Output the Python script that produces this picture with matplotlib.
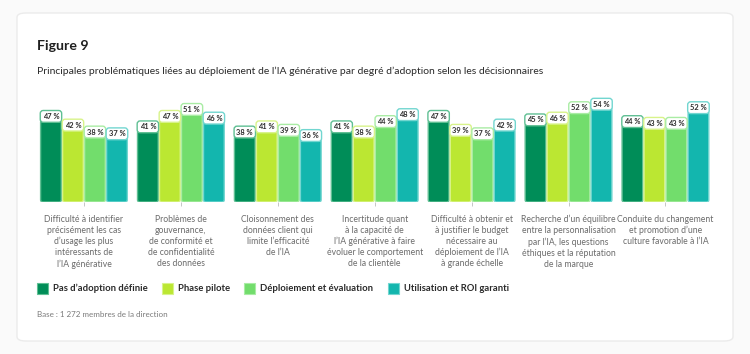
import matplotlib.pyplot as plt
from matplotlib.patches import FancyBboxPatch, Rectangle
import numpy as np

plt.rcParams['font.family'] = ['Lato', 'DejaVu Sans']

categories = [
    "Difficulté à identifier\nprécisément les cas\nd\u2019usage les plus\nintéressants de\nl\u2019IA générative",
    "Problèmes de\ngouvernance,\nde conformité et\nde confidentialité\ndes données",
    "Cloisonnement des\ndonnées client qui\nlimite l\u2019efficacité\nde l\u2019IA",
    "Incertitude quant\nà la capacité de\nl\u2019IA générative à faire\névoluer le comportement\nde la clientèle",
    "Difficulté à obtenir et\nà justifier le budget\nnécessaire au\ndéploiement de l\u2019IA\nà grande échelle",
    "Recherche d\u2019un équilibre\nentre la personnalisation\npar l\u2019IA, les questions\néthiques et la réputation\nde la marque",
    "Conduite du changement\net promotion d\u2019une\nculture favorable à l\u2019IA",
]
series_names = ["Pas d\u2019adoption définie", "Phase pilote",
                "Déploiement et évaluation", "Utilisation et ROI garanti"]
pas_adoption = [47, 41, 38, 41, 47, 45, 44]
phase_pilote = [42, 47, 41, 38, 39, 46, 43]
deploiement = [38, 51, 39, 44, 37, 52, 43]
utilisation = [37, 46, 36, 48, 42, 54, 52]
series = [pas_adoption, phase_pilote, deploiement, utilisation]

colors = ["#008d58", "#bbe732", "#72dd6c", "#13b6ae"]
edges = ["#5fbf93", "#d8f38a", "#a9eca4", "#72d6d0"]

fig = plt.figure(figsize=(7.5, 3.54), dpi=100)
fig.patch.set_facecolor("#fafafa")

card = FancyBboxPatch((17 / 750, 13 / 354), 716 / 750, 328 / 354,
                      boxstyle="round,pad=0,rounding_size=0.012",
                      transform=fig.transFigure, facecolor="white",
                      edgecolor="#ebebeb", linewidth=1.0, zorder=-10)
fig.patches.append(card)

ax = fig.add_axes([35.5 / 750, 152 / 354, 678.4 / 750, 104.4 / 354])
ax.set_facecolor("none")
ax.set_xlim(-0.5, len(categories) - 0.5)
ax.set_ylim(0, 60)

x = np.arange(len(categories))
step = 0.227
width = 0.214
# data units per pixel, for round corners
xu = 1 / 96.9
yu = 60 / 104.4
for k, vals in enumerate(series):
    bars = ax.bar(x + (k - 1.5) * step, vals, width, color=colors[k])
    for rect, v in zip(bars, vals):
        bx, by, bw, bh = rect.get_x(), rect.get_y(), rect.get_width(), rect.get_height()
        rect.remove()
        p = FancyBboxPatch((bx, by), bw, bh,
                           boxstyle="round,pad=0,rounding_size=0.022",
                           mutation_aspect=yu / xu,
                           facecolor=colors[k], edgecolor=edges[k],
                           linewidth=1.0, zorder=2)
        ax.add_patch(p)
        ax.text(bx + bw / 2, v + 2.2, f"{v}\u00a0%", ha="center", va="center",
                fontsize=5.4, fontweight="bold", color="#2c2c2c", zorder=4,
                bbox=dict(boxstyle="round,pad=0.32,rounding_size=0.4",
                          facecolor="white", edgecolor=edges[k], linewidth=1.0))

for s in ax.spines.values():
    s.set_visible(False)
ax.set_yticks([])
ax.set_xticks(x)
ax.set_xticklabels(categories, fontsize=6.2, color="#6b6b6b", linespacing=1.3)
ax.tick_params(axis="x", length=3, width=0.6, color="#bdbdbd", pad=6)

fig.text(37 / 750, 1 - 50 / 354, "Figure 9", fontsize=10.2, fontweight="bold",
         color="#1f1f1f", va="baseline")
fig.text(37 / 750, 1 - 74 / 354,
         "Principales problématiques liées au déploiement de l\u2019IA générative "
         "par degré d\u2019adoption selon les décisionnaires",
         fontsize=7.5, color="#2a2a2a", va="baseline")

leg_x = [37, 162, 244, 388]
for k, name in enumerate(series_names):
    fig.patches.append(Rectangle((leg_x[k] / 750, 1 - 294 / 354), 11 / 750, 11 / 354,
                                 transform=fig.transFigure, facecolor=colors[k],
                                 edgecolor=edges[k], linewidth=0.8))
    fig.text((leg_x[k] + 16) / 750, 1 - 288.5 / 354, name, fontsize=6.8,
             fontweight="bold", color="#2a2a2a", va="center")

fig.text(37 / 750, 1 - 317 / 354, "Base : 1\u00a0272 membres de la direction",
         fontsize=5.8, color="#7a7a7a", va="baseline")

fig.savefig("out.png", dpi=100, facecolor=fig.get_facecolor())
